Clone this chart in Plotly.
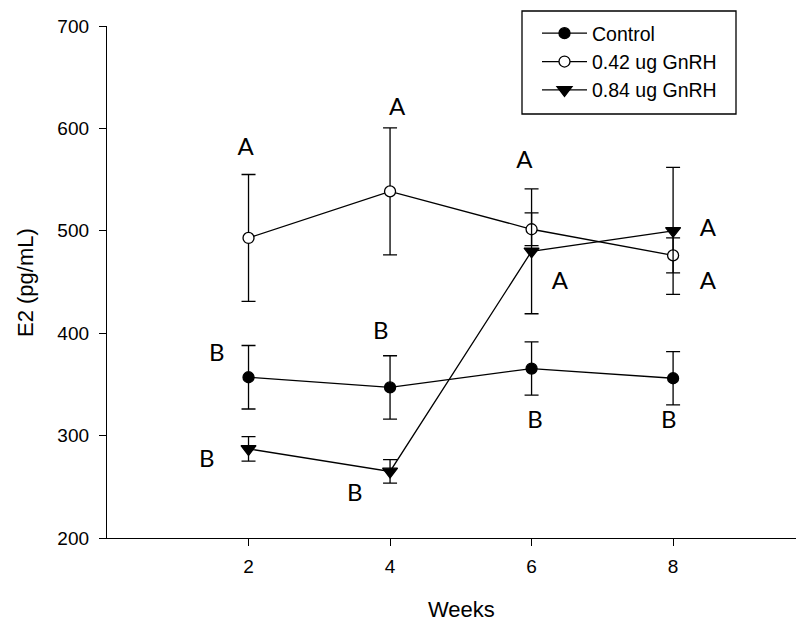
import plotly.graph_objects as go

weeks = [2, 4, 6, 8]

control_mean = [357, 347, 365.5, 356]
control_err = [31, 31, 26, 26]

gnrh042_mean = [493, 538.5, 501.5, 476]
gnrh042_err = [62, 62, 16, 17]

gnrh084_mean = [287, 265, 480, 500]
gnrh084_err = [12, 11.5, 61, 62]

letter_text = ["A", "A", "A", "A", "A", "A",
               "B", "B", "B", "B", "B", "B"]
letter_x = [1.96, 4.10, 5.90, 8.49, 8.49, 6.40,
            1.55, 3.87, 1.41, 3.50, 6.05, 7.94]
letter_y = [580, 619, 567, 501, 449, 449,
            378.5, 400, 275, 242, 313.5, 313.5]

series = [
    ("Control", control_mean, control_err, "circle", "black", 11),
    ("0.42 ug GnRH", gnrh042_mean, gnrh042_err, "circle", "white", 11),
    ("0.84 ug GnRH", gnrh084_mean, gnrh084_err, "triangle-down", "black", 13),
]

fig = go.Figure()
for name, mean, err, sym, fill, size in series:
    fig.add_trace(go.Scatter(
        x=weeks, y=mean, name=name, mode="lines+markers",
        line=dict(color="black", width=1.3),
        marker=dict(symbol=sym, size=size, color=fill,
                    line=dict(color="black", width=1.3)),
        error_y=dict(type="data", array=err, visible=True,
                     color="black", thickness=1.3, width=7),
    ))

fig.add_trace(go.Scatter(
    x=letter_x, y=letter_y, text=letter_text, mode="text",
    textfont=dict(family="Lato", size=24, color="black"),
    showlegend=False, hoverinfo="skip",
))

PW, PH = 697, 512  # plot area in px
def px_x(p):
    return (p - 107) / PW
def px_y(p):
    return (538 - p) / PH

# the page body adds an 8px margin, so the figure is 8px smaller
fig.update_layout(
    width=796, height=613,
    margin=dict(l=99, r=0, t=18, b=83),
    plot_bgcolor="white", paper_bgcolor="white",
    font=dict(family="Liberation Sans, Arial", size=19, color="black"),
    showlegend=True,
    legend=dict(
        x=px_x(537), y=px_y(14),
        xanchor="left", yanchor="top",
        borderwidth=0,
        bgcolor="rgba(0,0,0,0)",
        itemwidth=45,
        font=dict(size=19.5),
    ),
    shapes=[
        dict(type="rect", xref="paper", yref="paper",
             x0=px_x(522), x1=px_x(736), y0=px_y(114), y1=px_y(11),
             line=dict(color="black", width=1.3), fillcolor="rgba(0,0,0,0)",
             layer="above"),
    ],
    xaxis=dict(
        range=[0, 9.85], tickvals=weeks, ticktext=["2", "4", "6", "8"],
        showline=True, linecolor="black", linewidth=1.3,
        ticks="outside", ticklen=7, tickwidth=1.3, tickcolor="black",
        ticklabelstandoff=4,
        showgrid=False, zeroline=False,
    ),
    yaxis=dict(
        range=[200, 700], tickvals=[200, 300, 400, 500, 600, 700],
        showline=True, linecolor="black", linewidth=1.3,
        ticks="outside", ticklen=7, tickwidth=1.3, tickcolor="black",
        ticklabelstandoff=6,
        showgrid=False, zeroline=False,
    ),
    annotations=[
        dict(text="Weeks", x=px_x(461), y=px_y(609),
             xref="paper", yref="paper", showarrow=False,
             xanchor="center", yanchor="middle",
             font=dict(size=22)),
        dict(text="E2 (pg/mL)", x=px_x(25), y=px_y(283),
             xref="paper", yref="paper", showarrow=False, textangle=-90,
             xanchor="center", yanchor="middle",
             font=dict(size=22)),
    ],
)

fig.write_html("out.html")
